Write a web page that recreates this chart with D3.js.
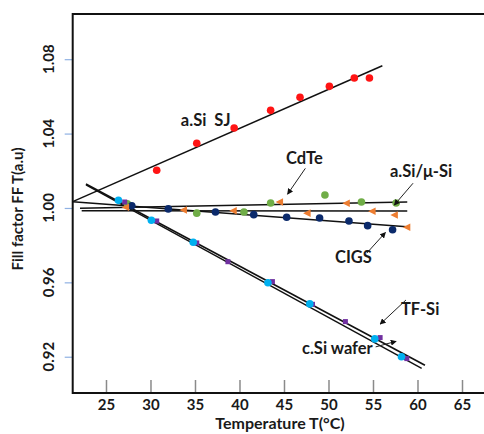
<!DOCTYPE html>
<html>
<head>
<meta charset="utf-8">
<script src="https://cdn.jsdelivr.net/npm/d3@7"></script>
<style>
html,body{margin:0;padding:0;background:#fff;}
svg{display:block;}
text{font-family:Lato,"Open Sans",sans-serif;font-weight:bold;}
</style>
</head>
<body>
<div id="chart"></div>
<script>
// ---------- data ----------
const xTicks = [25, 30, 35, 40, 45, 50, 55, 60, 65];
const yTicks = [0.92, 0.96, 1.00, 1.04, 1.08];

const aSiSJ_T  = [30.7, 35.2, 39.4, 43.5, 46.8, 50.1, 52.9, 54.6];
const aSiSJ_FF = [1.0203, 1.0348, 1.0430, 1.0525, 1.0595, 1.0654, 1.0699, 1.0699];

const cdte_T  = [27.4, 35.2, 40.5, 43.5, 49.6, 53.7, 57.6];
const cdte_FF = [1.0023, 0.9972, 0.9978, 1.0027, 1.0070, 1.0032, 1.0027];

const aSiMuSi_T  = [27.2, 33.7, 39.3, 44.5, 47.6, 52.0, 54.9, 57.4, 58.8];
const aSiMuSi_FF = [1.0004, 0.9989, 0.9985, 1.0032, 0.9972, 1.0025, 0.9982, 0.9962, 0.9896];

const cigs_T  = [27.9, 32.0, 37.3, 41.6, 45.3, 49.0, 52.3, 54.4, 57.2];
const cigs_FF = [1.0012, 0.9995, 0.9978, 0.9964, 0.9950, 0.9946, 0.9930, 0.9905, 0.9883];

const tfSi_T  = [27.1, 30.7, 35.2, 38.7, 43.7, 48.2, 51.9, 55.8, 58.8];
const tfSi_FF = [1.0032, 0.9930, 0.9812, 0.9711, 0.9604, 0.9482, 0.9389, 0.9303, 0.9190];

const cSi_T  = [26.4, 30.1, 34.8, 43.2, 47.9, 55.2, 58.2];
const cSi_FF = [1.0041, 0.9934, 0.9816, 0.9598, 0.9484, 0.9296, 0.9200];

// trend lines (start / end)
const fitSJ_T = [21.26, 56.05],   fitSJ_FF = [1.0034, 1.0765];
const fitCIGS_T = [21.26, 59.16], fitCIGS_FF = [1.0034, 0.9898];
const fitCdTe_T = [22.08, 58.85], fitCdTe_FF = [0.9998, 1.0032];
const fitMu_T = [22.27, 58.85],   fitMu_FF = [0.9985, 0.9984];
const fitCSi_T = [22.75, 60.84],  fitCSi_FF = [1.0129, 0.9154];
const fitTF_T = [22.75, 60.47],   fitTF_FF = [1.0124, 0.9138];

// ---------- chart ----------
const W = 484, H = 434;
const svg = d3.select("#chart").append("svg").attr("width", W).attr("height", H);

const L = 72.7, R = 483, T = 14, B = 393;
const x = d3.scaleLinear().domain([21.26, 67.36]).range([L, R]);
const y = d3.scaleLinear().domain([0.9005, 1.1043]).range([B, T]);

// x axis ticks (inside, upward)
const xAxis = d3.axisBottom(x).tickValues(xTicks).tickSizeInner(-13).tickSizeOuter(0).tickPadding(6);
const gx = svg.append("g").attr("transform", `translate(0,${B})`).call(xAxis);
gx.select(".domain").remove();
gx.selectAll(".tick line").attr("stroke", "#8a8a8a").attr("stroke-width", 1.5);
gx.selectAll(".tick text").attr("font-size", 15).attr("fill", "#1a1a1a")
  .attr("font-family", "Lato, sans-serif").attr("font-weight", "bold").attr("y", 6);

// y axis ticks (outside, light blue)
const yAxis = d3.axisLeft(y).tickValues(yTicks).tickSizeInner(8).tickSizeOuter(0).tickFormat("");
const gy = svg.append("g").attr("transform", `translate(${L},0)`).call(yAxis);
gy.select(".domain").remove();
gy.selectAll(".tick line").attr("stroke", "#8fb1e3").attr("stroke-width", 1.2);

// rotated y tick labels
svg.append("g").selectAll("text").data(yTicks).join("text")
  .attr("transform", d => `translate(54,${y(d)}) rotate(-90)`)
  .attr("text-anchor", "middle")
  .attr("font-size", 15).attr("fill", "#1a1a1a")
  .text(d => d.toFixed(2));

// frame
svg.append("rect").attr("x", L).attr("y", T).attr("width", R - L + 2).attr("height", B - T)
  .attr("fill", "none").attr("stroke", "#111").attr("stroke-width", 2);

// axis titles
svg.append("text").attr("transform", `translate(23,209) rotate(-90)`)
  .attr("text-anchor", "middle").attr("font-size", 15).attr("fill", "#1a1a1a")
  .text("Fill factor FF T(a.u)");
svg.append("text").attr("x", 280).attr("y", 429)
  .attr("text-anchor", "middle").attr("font-size", 16).attr("fill", "#1a1a1a")
  .text("Temperature T(°C)");

// trend lines
const fits = [
  [fitSJ_T, fitSJ_FF, 1.5], [fitCIGS_T, fitCIGS_FF, 1.5], [fitCdTe_T, fitCdTe_FF, 1.5],
  [fitMu_T, fitMu_FF, 1.5], [fitCSi_T, fitCSi_FF, 1.6], [fitTF_T, fitTF_FF, 1.4]
];
const line = d3.line().x(d => x(d[0])).y(d => y(d[1]));
const gl = svg.append("g");
fits.forEach(([ts, vs, w]) => {
  gl.append("path").attr("d", line(d3.zip(ts, vs)))
    .attr("fill", "none").attr("stroke", "#111").attr("stroke-width", w);
});

// markers
function circles(ts, vs, color, r) {
  svg.append("g").selectAll("circle").data(d3.zip(ts, vs)).join("circle")
    .attr("cx", d => x(d[0])).attr("cy", d => y(d[1])).attr("r", r).attr("fill", color);
}
function squares(ts, vs, color, s) {
  svg.append("g").selectAll("rect").data(d3.zip(ts, vs)).join("rect")
    .attr("x", d => x(d[0]) - s / 2).attr("y", d => y(d[1]) - s / 2)
    .attr("width", s).attr("height", s).attr("fill", color);
}
function leftTriangles(ts, vs, color) {
  svg.append("g").selectAll("path").data(d3.zip(ts, vs)).join("path")
    .attr("d", "M-4,0L3.5,-3.8L3.5,3.8Z")
    .attr("transform", d => `translate(${x(d[0])},${y(d[1])})`)
    .attr("fill", color);
}
circles(aSiSJ_T, aSiSJ_FF, "#ff1414", 3.8);
circles(cdte_T, cdte_FF, "#70ad47", 3.8);
circles(cigs_T, cigs_FF, "#0b2a6b", 3.8);
leftTriangles(aSiMuSi_T, aSiMuSi_FF, "#ed7d31");
squares(tfSi_T, tfSi_FF, "#7030a0", 5);
circles(cSi_T, cSi_FF, "#00b0f0", 3.8);

// annotations
const defs = svg.append("defs");
defs.append("marker").attr("id", "ah").attr("viewBox", "0 0 10 10")
  .attr("refX", 9).attr("refY", 5).attr("markerWidth", 6).attr("markerHeight", 6)
  .attr("orient", "auto-start-reverse")
  .append("path").attr("d", "M0,0L10,5L0,10Z").attr("fill", "#111");

const labels = [
  {text: "a.Si\u00a0\u00a0SJ", T: 36.2, v: 1.0470},
  {text: "CdTe", T: 47.3, v: 1.0265},
  {text: "a.Si/μ-Si", T: 60.4, v: 1.0200},
  {text: "CIGS", T: 52.8, v: 0.9737},
  {text: "TF-Si", T: 60.3, v: 0.9455},
  {text: "c.Si wafer", T: 51.0, v: 0.9245}
];
svg.append("g").selectAll("text").data(labels).join("text")
  .attr("x", d => x(d.T)).attr("y", d => y(d.v)).attr("dy", "0.35em")
  .attr("text-anchor", "middle").attr("font-size", 16.5).attr("fill", "#1a1a1a")
  .text(d => d.text);

const arrows = [
  [47.4, 1.0213, 45.4, 1.0074],
  [59.5, 1.0133, 57.4, 1.0016],
  [54.3, 0.9757, 56.4, 0.9868],
  [58.7, 0.9505, 55.8, 0.9375],
  [55.3, 0.9253, 57.6, 0.9283]
];
svg.append("g").selectAll("line").data(arrows).join("line")
  .attr("x1", d => x(d[0])).attr("y1", d => y(d[1]))
  .attr("x2", d => x(d[2])).attr("y2", d => y(d[3]))
  .attr("stroke", "#222").attr("stroke-width", 1).attr("marker-end", "url(#ah)");
</script>
</body>
</html>
